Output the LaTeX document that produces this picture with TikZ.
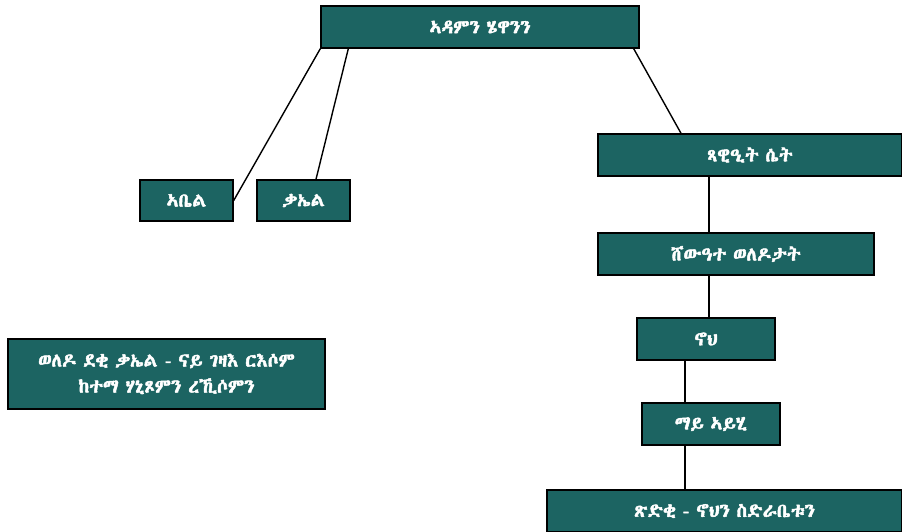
\documentclass[tikz,border=0pt]{standalone}
\usepackage{fontspec}
\usepackage{xcolor}
\usepackage{tikz}
\usetikzlibrary{positioning,calc}
\IfFontExistsTF{Abyssinica SIL}{\newfontfamily\ethfont[FakeBold=2.5,WordSpace=0.8]{Abyssinica SIL}}{%
\IfFontExistsTF{FreeSerif}{\newfontfamily\ethfont[FakeBold=2.5,WordSpace=0.8]{FreeSerif}}{%
\newfontfamily\ethfont[FakeBold=2.5,WordSpace=0.8]{Noto Sans Ethiopic}}}
\definecolor{boxteal}{RGB}{28,100,98}

\begin{document}
\begin{tikzpicture}[x=1pt,y=-1pt,
		box/.style={draw=black,line width=1.4pt,fill=boxteal,text=white,font=\ethfont\fontsize{19}{26}\selectfont,inner sep=0pt,minimum height=42pt,align=center},
		link/.style={line width=1.4pt,black}]
		\useasboundingbox (0,0) rectangle (902,532);
		\node[box,minimum width=318pt] (adam) at (480,27) {ኣዳምን ሄዋንን};
		\node[box,minimum width=304pt] (seth) at (750,155) {ጻዊዒት ሴት};
		\node[box,minimum width=93pt,minimum height=41pt] (abel) at (186.5,200.5) {ኣቤል};
		\node[box,minimum width=93pt,minimum height=41pt] (kain) at (303.5,200.5) {ቃኤል};
		\node[box,minimum width=276pt] (gen) at (736,254) {ሸውዓተ ወለዶታት};
		\node[box,minimum width=138pt] (noah) at (706,339) {ኖህ};
		\node[box,minimum width=138pt] (flood) at (711,424) {ማይ ኣይሂ};
		\node[box,minimum width=317pt,minimum height=70pt] (cainline) at (166.5,374) {ወለዶ ደቂ ቃኤል - ናይ ገዛእ ርእሶም\\ከተማ ሃኒጾምን ረኺሶምን};
		\node[box,minimum width=355pt] (righteous) at (724.5,511) {ጽድቂ - ኖህን ስድራቤቱን};
		% lines from the top box
		\draw[link] (adam.south west) -- (abel.east);
		\draw[link] ([xshift=28pt]adam.south west) -- ([xshift=12.5pt]kain.north);
		\draw[link] ([xshift=-6pt]adam.south east) -- ([xshift=-69pt]seth.north);
		% the line of Seth
		\draw[link] ([xshift=-41pt]seth.south) coordinate (s1) -- (s1 |- gen.north);
		\draw[link] ([xshift=-27pt]gen.south) coordinate (s2) -- (s2 |- noah.north);
		\draw[link] ([xshift=-21pt]noah.south) coordinate (s3) -- (s3 |- flood.north);
		\draw[link] ([xshift=-26pt]flood.south) coordinate (s4) -- (s4 |- righteous.north);
\end{tikzpicture}
\end{document}
